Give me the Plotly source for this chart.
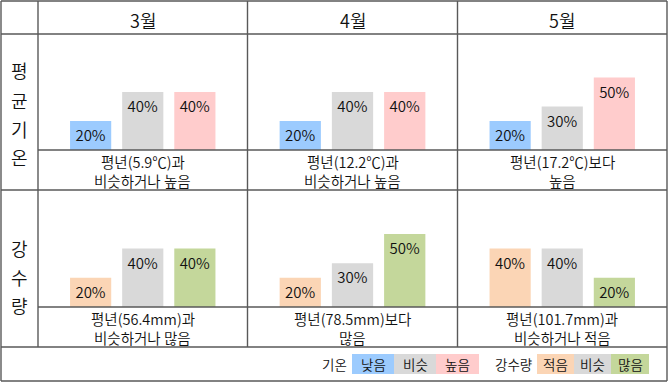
import plotly.graph_objects as go

# ---------------- data ----------------
months = ["3월", "4월", "5월"]
row_titles = ["평균기온", "강수량"]
temp_cats = ["낮음", "비슷", "높음"]
rain_cats = ["적음", "비슷", "많음"]
temp_vals = [[20, 40, 40], [20, 40, 40], [20, 30, 50]]
rain_vals = [[20, 40, 40], [20, 30, 50], [40, 40, 20]]
temp_desc = ["평년(5.9℃)과<br>비슷하거나 높음", "평년(12.2℃)과<br>비슷하거나 높음", "평년(17.2℃)보다<br>높음"]
rain_desc = ["평년(56.4mm)과<br>비슷하거나 많음", "평년(78.5mm)보다<br>많음", "평년(101.7mm)과<br>비슷하거나 적음"]
temp_colors = ["#9CCBFE", "#D9D9D9", "#FFCCCC"]
rain_colors = ["#FBD5B5", "#D9D9D9", "#C4D79B"]

W, H = 668, 382
FONT = "Noto Sans CJK KR"
TXT = "#111111"
WT = 350
LINE = "#595959"


def px(x):
    return x / W


def py(y):
    return 1 - y / H


col_edges = [38, 247.5, 457.5, 667]
row_chart = [(34, 150), (190, 307)]
row_text_lines = [(162, 180.5), (318.5, 337)]

fig = go.Figure()
layout = {}
rows = [(temp_cats, temp_vals, temp_colors, temp_desc), (rain_cats, rain_vals, rain_colors, rain_desc)]
annotations = []
for r, (cats, vals, colors, descs) in enumerate(rows):
    for c in range(3):
        i = r * 3 + c
        xa = "x" if i == 0 else f"x{i+1}"
        ya = "y" if i == 0 else f"y{i+1}"
        fig.add_trace(go.Bar(
            x=cats, y=vals[c], xaxis=xa, yaxis=ya,
            marker=dict(color=colors, line=dict(width=0)),
            texttemplate="%{y}%", textposition="inside", insidetextanchor="end",
            textfont=dict(family=FONT, size=15, color=TXT, weight=WT),
            constraintext="none", hoverinfo="skip", showlegend=False,
        ))
        kx = "xaxis" if i == 0 else f"xaxis{i+1}"
        ky = "yaxis" if i == 0 else f"yaxis{i+1}"
        layout[kx] = dict(domain=[px(col_edges[c]), px(col_edges[c + 1])], range=[-1.01, 3.01],
                          visible=False, type="category", categoryorder="array", categoryarray=cats,
                          anchor=ya, fixedrange=True)
        layout[ky] = dict(domain=[py(row_chart[r][1]), py(row_chart[r][0])], range=[0, 80],
                          visible=False, anchor=xa, fixedrange=True)
        for line_text, ly in zip(descs[c].split("<br>"), row_text_lines[r]):
            annotations.append(dict(x=px((col_edges[c] + col_edges[c + 1]) / 2), y=py(ly),
                                    xref="paper", yref="paper", text=line_text, showarrow=False,
                                    font=dict(family=FONT, size=14.5, color=TXT, weight=WT),
                                    xanchor="center", yanchor="middle", align="center"))

# headers
for c, m in enumerate(months):
    annotations.append(dict(x=px((col_edges[c] + col_edges[c + 1]) / 2), y=py(20), xref="paper", yref="paper",
                            text=m, showarrow=False, font=dict(family=FONT, size=18, color=TXT, weight=WT),
                            xanchor="center", yanchor="middle"))

# row titles (vertical characters)
title_pos = [[70, 100, 129, 157], [248, 277, 305]]
for r, t in enumerate(row_titles):
    for ch, yy in zip(t, title_pos[r]):
        annotations.append(dict(x=px(19), y=py(yy), xref="paper", yref="paper", text=ch, showarrow=False,
                                font=dict(family=FONT, size=18, color=TXT, weight=WT),
                                xanchor="center", yanchor="middle"))

# grid lines
shapes = []


def hline(y, x0, x1):
    shapes.append(dict(type="line", xref="paper", yref="paper", x0=px(x0), x1=px(x1), y0=py(y), y1=py(y),
                       line=dict(color=LINE, width=1.4)))


def vline(x, y0, y1):
    shapes.append(dict(type="line", xref="paper", yref="paper", x0=px(x), x1=px(x), y0=py(y0), y1=py(y1),
                       line=dict(color=LINE, width=1.4)))


hline(1, 1, 667)
hline(34, 1, 667)
hline(150, 38, 667)
hline(190, 1, 667)
hline(307, 38, 667)
hline(347, 1, 667)
hline(381, 1, 667)
vline(1, 1, 381)
vline(667, 1, 381)
for x in col_edges[:-1]:
    vline(x, 1, 347)

# legend
legend_groups = [("기온", 334, [352, 394, 436, 479], temp_cats, temp_colors),
                 ("강수량", 513, [537, 574, 611, 649], rain_cats, rain_colors)]
for name, tx, edges, cats, colors in legend_groups:
    annotations.append(dict(x=px(tx), y=py(364), xref="paper", yref="paper", text=name, showarrow=False,
                            font=dict(family=FONT, size=13.5, color=TXT, weight=WT),
                            xanchor="center", yanchor="middle"))
    for k in range(3):
        shapes.append(dict(type="rect", xref="paper", yref="paper", x0=px(edges[k]), x1=px(edges[k + 1]),
                           y0=py(374), y1=py(354), fillcolor=colors[k], line=dict(width=0), layer="below"))
        annotations.append(dict(x=px((edges[k] + edges[k + 1]) / 2), y=py(364), xref="paper", yref="paper",
                                text=cats[k], showarrow=False,
                                font=dict(family=FONT, size=13.5, color=TXT, weight=WT),
                                xanchor="center", yanchor="middle"))

fig.update_layout(
    width=W, height=H, margin=dict(l=0, r=0, t=0, b=0),
    paper_bgcolor="white", plot_bgcolor="white",
    bargap=0.21, showlegend=False,
    annotations=annotations, shapes=shapes,
    font=dict(family=FONT),
    **layout,
)
fig.write_html("out.html", config={"displayModeBar": False},
               post_script="document.body.style.margin='0';document.body.style.padding='0';")
